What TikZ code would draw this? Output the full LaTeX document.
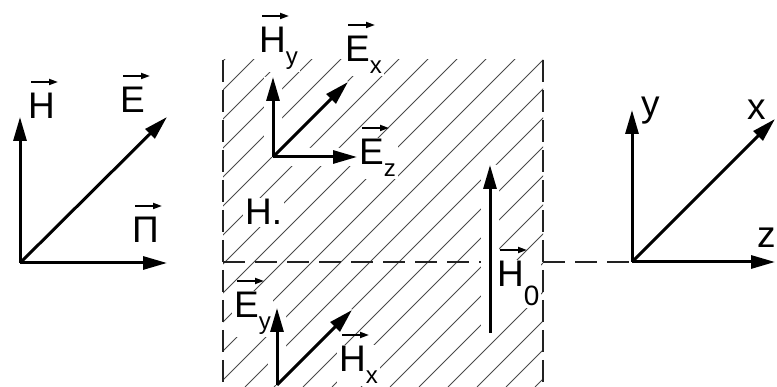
\documentclass[tikz,border=0pt]{standalone}
\usepackage{fontspec}
\setmainfont{Liberation Sans}
\usepackage{tikz}
\usetikzlibrary{arrows.meta}
\definecolor{hatchc}{HTML}{4A4A4A}
\definecolor{dashc}{HTML}{222222}
\newcommand{\lsub}[2][12pt]{\raisebox{-#1}{\fontsize{24}{24}\selectfont #2}}
\tikzset{
  ar/.style={-{Triangle[length=24pt,width=13pt]},line width=3pt},
  vec/.style={-{Triangle[length=9pt,width=6pt]},line width=1.8pt},
  knock/.style={white,line width=18pt},
  hatch/.style={hatchc,line width=0.9pt},
  edge/.style={dashc,line width=2pt,dash pattern=on 22pt off 8pt},
  axdash/.style={dashc,line width=2pt,dash pattern=on 22pt off 10pt},
  lab/.style={font=\fontsize{37}{40}\selectfont,inner sep=2pt,anchor=base west},
  slablab/.style={lab,fill=white}
}
\begin{document}
\begin{tikzpicture}[x=1pt,y=1pt]
\useasboundingbox (0,0) rectangle (777,387);
% points
\coordinate (lo) at (20,124); \coordinate (lh) at (20,270);
\coordinate (le) at (167,270); \coordinate (lp) at (167,124);
\coordinate (mo) at (273,230); \coordinate (mhy) at (273,310);
\coordinate (mex) at (348,305); \coordinate (mez) at (357,230);
\coordinate (bo) at (277,2); \coordinate (bey) at (277,79);
\coordinate (bhx) at (352,77);
\coordinate (h0a) at (490,54); \coordinate (h0b) at (490,222);
\coordinate (ro) at (632,125); \coordinate (ry) at (632,277);
\coordinate (rx) at (775,268); \coordinate (rz) at (775,125);
\coordinate (sbl) at (223,0); \coordinate (stl) at (223,327);
\coordinate (sbr) at (543,0); \coordinate (str) at (543,327);
\coordinate (dl) at (223,125);
% slab
\begin{scope}
\clip (sbl) rectangle (str);
\foreach \c in {-103,-74,...,545} \draw[hatch] (\c,0) -- ++(400,400);
\end{scope}
\draw[edge] (stl) -- (sbl);
\draw[edge] (str) -- (sbr);
\draw[axdash] (dl) -- (ro);
\draw[knock] (mo) -- (mhy) (mo) -- (mex) (mo) -- (mez) (bo) -- (bey) (bo) -- (bhx) (h0a) -- (h0b);
% labels
\node[lab] (lH) at (26,268) {H};
\node[lab] (lE) at (118,274) {E};
\node[lab] (lP) at (130,144) {Π};
\node[slablab] (Hy) at (257,334) {H\lsub{y}};
\node[slablab] (Ex) at (343,325) {E\lsub{x}};
\node[slablab] (Ez) at (357,222) {E\lsub{z}};
\node[slablab] (Hdot) at (243,162) {H.};
\node[slablab] (Ey) at (232,69) {E\lsub{y}};
\node[slablab] (Hx) at (337,15) {H\lsub{x}};
\node[slablab] (H0) at (495,100) {H\lsub[19pt]{\fontsize{28}{28}\selectfont 0}};
\node[lab] (ly) at (639,270) {y};
\node[lab] (lx) at (745,267) {x};
\node[lab] (lz) at (755,139) {z};
% arrows
\foreach \a/\b in {lo/lh,lo/le,lo/lp,mo/mhy,mo/mex,mo/mez,bo/bey,bo/bhx,h0a/h0b,ro/ry,ro/rx,ro/rz}
  \draw[ar] (\a) -- (\b);
\foreach \n in {lH,lE,lP,Hy,Ex,Ez,Ey,Hx,H0}
  \draw[vec] ([shift={(5,37)}]\n.base west) -- ++(27,0);
\end{tikzpicture}
\end{document}
